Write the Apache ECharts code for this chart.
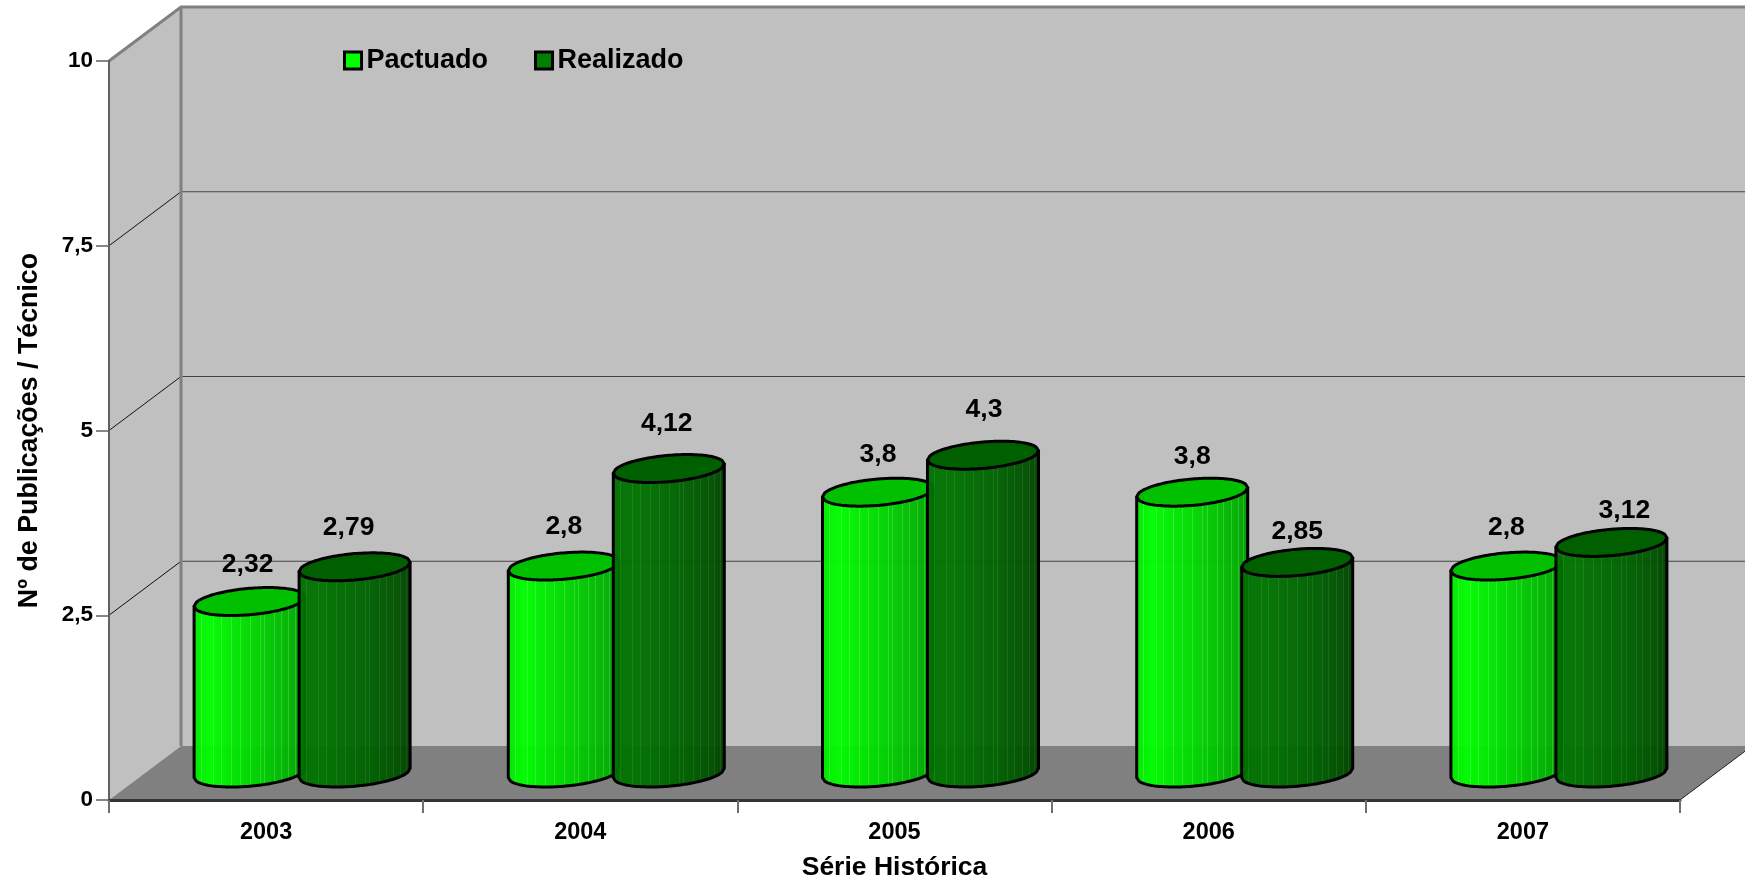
<!DOCTYPE html>
<html lang="pt">
<head>
  <meta charset="UTF-8">
  <title>Nº de Publicações / Técnico</title>
  <script src="https://cdn.jsdelivr.net/npm/echarts@6/dist/echarts.min.js"></script>
  <style>
    html, body { margin: 0; padding: 0; background: #fff; }
    #app { width: 1745px; height: 880px; }
  </style>
</head>
<body>
  <div id="app"></div>
  <script>
    // dados
    var years = ['2003', '2004', '2005', '2006', '2007']
    var pactuado = [2.32, 2.8, 3.8, 3.8, 2.8]
    var realizado = [2.79, 4.12, 4.3, 2.85, 3.12]
    var yTicks = [0, 2.5, 5, 7.5, 10]

    // deslocamento a mao dos rotulos [dx, dy], como no original
    var pactuadoLabelShift = [[-2, -37], [0, -39], [0, -37], [0, -35], [0, -38]]
    var realizadoLabelShift = [[-6, -39], [-2, -45], [1, -46], [0, -31], [13, -32]]

    // profundidade do "3D"
    var depthX = 72
    var depthY = 54
    var barHalf = 55.5
    var barOffset = 52.5
    var capHalf = 13.2
    var capTilt = 4.65
    var seams = [0.06, 0.17, 0.24, 0.33, 0.41, 0.5, 0.59, 0.63, 0.72, 0.78, 0.85, 0.91, 0.96]
    var fontName = '"Liberation Sans", Arial, sans-serif'

    function decimal(v) {
      return String(v).replace('.', ',')
    }

    // tampa inclinada: esquerda mais baixa que a direita
    function arcY(cy, dx, sign) {
      var k = dx / barHalf
      return cy - capTilt * k + sign * capHalf * Math.sqrt(Math.max(0, 1 - k * k))
    }

    function arcPoints(cx, cy, sign) {
      var pts = []
      for (var i = 0; i <= 48; i++) {
        var dx = -barHalf + (2 * barHalf * i) / 48
        pts.push([cx + dx, arcY(cy, dx, sign)])
      }
      return pts
    }

    function renderBackdrop(params, api) {
      var c = params.coordSys
      var left = c.x
      var right = c.x + c.width
      var base = api.coord([0, 0])[1]
      var top = api.coord([0, 10])[1]
      var backX = left + depthX
      var backR = right + depthX
      var kids = []
      // paredes e chao
      kids.push({ type: 'polygon', shape: { points: [[left, top], [backX, top - depthY], [backX, base - depthY], [left, base]] }, style: { fill: '#c0c0c0' } })
      kids.push({ type: 'polygon', shape: { points: [[backX, top - depthY], [backR, top - depthY], [backR, base - depthY], [backX, base - depthY]] }, style: { fill: '#c0c0c0' } })
      kids.push({ type: 'polygon', shape: { points: [[left, base], [backX, base - depthY], [backR, base - depthY], [right, base]] }, style: { fill: '#808080' } })
      // linhas de grade
      yTicks.forEach(function (v) {
        if (v === 0 || v === 10) return
        var y = api.coord([0, v])[1]
        kids.push({ type: 'line', shape: { x1: left, y1: y, x2: backX, y2: y - depthY }, style: { stroke: '#111', lineWidth: 1 } })
        kids.push({ type: 'line', shape: { x1: backX, y1: y - depthY, x2: backR, y2: y - depthY }, style: { stroke: '#444', lineWidth: 1.2 } })
      })
      kids.push({ type: 'polyline', shape: { points: [[left, top], [backX, top - depthY], [backR, top - depthY]] }, style: { fill: 'none', stroke: '#808080', lineWidth: 3 } })
      kids.push({ type: 'line', shape: { x1: backX, y1: top - depthY, x2: backX, y2: base - depthY }, style: { stroke: '#808080', lineWidth: 3 } })
      kids.push({ type: 'line', shape: { x1: right, y1: base, x2: backR, y2: base - depthY }, style: { stroke: '#222', lineWidth: 1 } })
      return { type: 'group', children: kids }
    }

    function makeCylinder(side, colors, capColor, seamColor, labelShift) {
      return function (params, api) {
        var i = api.value(0)
        var v = api.value(1)
        var bottom = api.coord([i, 0])
        var head = api.coord([i, v])
        var cx = bottom[0] + depthX / 2 + side * barOffset
        var yb = bottom[1] - depthY / 2
        var yt = head[1] - depthY / 2
        var low = arcPoints(cx, yb, 1)
        var kids = []

        var body = [[cx - barHalf, arcY(yt, -barHalf, 0)], [cx + barHalf, arcY(yt, barHalf, 0)]].concat(low.slice().reverse())
        kids.push({
          type: 'polygon',
          shape: { points: body },
          style: {
            fill: new echarts.graphic.LinearGradient(0, 0, 1, 0, colors),
            opacity: 0.96
          }
        })
        seams.forEach(function (f) {
          var dx = -barHalf + 2 * barHalf * f
          var x = Math.round(cx + dx) + 0.5
          kids.push({
            type: 'line',
            shape: { x1: x, y1: arcY(yt, dx, 1), x2: x, y2: arcY(yb, dx, 1) - 1 },
            style: { stroke: seamColor, lineWidth: 1 }
          })
        })
        var outline = [[cx - barHalf, arcY(yt, -barHalf, 0)]].concat(low, [[cx + barHalf, arcY(yt, barHalf, 0)]])
        kids.push({ type: 'polyline', shape: { points: outline }, style: { fill: 'none', stroke: '#000', lineWidth: 3 } })
        var cap = arcPoints(cx, yt, 1).concat(arcPoints(cx, yt, -1).reverse())
        kids.push({ type: 'polygon', shape: { points: cap }, style: { fill: capColor, stroke: '#000', lineWidth: 3 } })
        var shift = labelShift[i]
        kids.push({
          type: 'text',
          style: {
            text: decimal(v),
            x: cx + shift[0],
            y: yt + shift[1],
            align: 'center',
            verticalAlign: 'middle',
            font: 'bold 26.5px ' + fontName,
            fill: '#000'
          }
        })
        return { type: 'group', children: kids }
      }
    }

    function toSeries(values) {
      return values.map(function (v, i) { return [i, v] })
    }

    var chart = echarts.init(document.getElementById('app'), null, { renderer: 'canvas' })
    var option = {
      animation: false,
      backgroundColor: '#fff',
      grid: { left: 109, right: 65, top: 61, bottom: 80, outerBoundsMode: 'none' },
      legend: {
        left: 338,
        top: 42,
        itemWidth: 17,
        itemHeight: 17,
        itemGap: 46,
        icon: 'rect',
        selectedMode: false,
        data: ['Pactuado', 'Realizado'],
        itemStyle: { borderColor: '#000', borderWidth: 3 },
        textStyle: { fontFamily: fontName, fontWeight: 'bold', fontSize: 27, color: '#000', padding: [2, 0, 0, 0] }
      },
      xAxis: {
        type: 'category',
        data: years,
        z: 5,
        name: 'Série Histórica',
        nameLocation: 'middle',
        nameGap: 54,
        nameTextStyle: { fontFamily: fontName, fontWeight: 'bold', fontSize: 26.5, color: '#000' },
        axisLine: { lineStyle: { color: '#333', width: 3 } },
        axisTick: { show: true, alignWithLabel: false, length: 13, lineStyle: { color: '#707070', width: 2 } },
        axisLabel: { margin: 21, fontFamily: fontName, fontWeight: 'bold', fontSize: 23.5, color: '#000' },
        splitLine: { show: false }
      },
      yAxis: {
        type: 'value',
        min: 0,
        max: 10,
        interval: 2.5,
        z: 5,
        name: 'Nº de Publicações / Técnico',
        nameLocation: 'middle',
        nameGap: 66,
        nameTextStyle: { fontFamily: fontName, fontWeight: 'bold', fontSize: 26.8, color: '#000' },
        axisLine: { show: true, lineStyle: { color: '#606060', width: 2 } },
        axisTick: { show: true, length: 13, lineStyle: { color: '#606060', width: 1.5 } },
        axisLabel: { margin: 16, fontFamily: fontName, fontWeight: 'bold', fontSize: 22.5, color: '#000', formatter: decimal },
        splitLine: { show: false }
      },
      series: [
        {
          type: 'custom',
          name: 'fundo',
          silent: true,
          z: 1,
          clip: false,
          data: [[0, 0]],
          encode: { x: 0, y: 1 },
          renderItem: renderBackdrop
        },
        {
          type: 'custom',
          name: 'Pactuado',
          z: 2,
          clip: false,
          itemStyle: { color: '#00ff00' },
          data: toSeries(pactuado),
          encode: { x: 0, y: 1 },
          renderItem: makeCylinder(-1, [
            { offset: 0, color: '#00ea00' },
            { offset: 0.14, color: '#00ff00' },
            { offset: 0.6, color: '#00d000' },
            { offset: 0.9, color: '#00b000' },
            { offset: 1, color: '#009800' }
          ], '#00c000', 'rgba(190,255,190,0.22)', pactuadoLabelShift)
        },
        {
          type: 'custom',
          name: 'Realizado',
          z: 3,
          clip: false,
          itemStyle: { color: '#008000' },
          data: toSeries(realizado),
          encode: { x: 0, y: 1 },
          renderItem: makeCylinder(1, [
            { offset: 0, color: '#007000' },
            { offset: 0.2, color: '#007400' },
            { offset: 0.65, color: '#006000' },
            { offset: 0.9, color: '#005000' },
            { offset: 1, color: '#004000' }
          ], '#006000', 'rgba(190,255,190,0.1)', realizadoLabelShift)
        }
      ]
    }
    chart.setOption(option)
  </script>
</body>
</html>
